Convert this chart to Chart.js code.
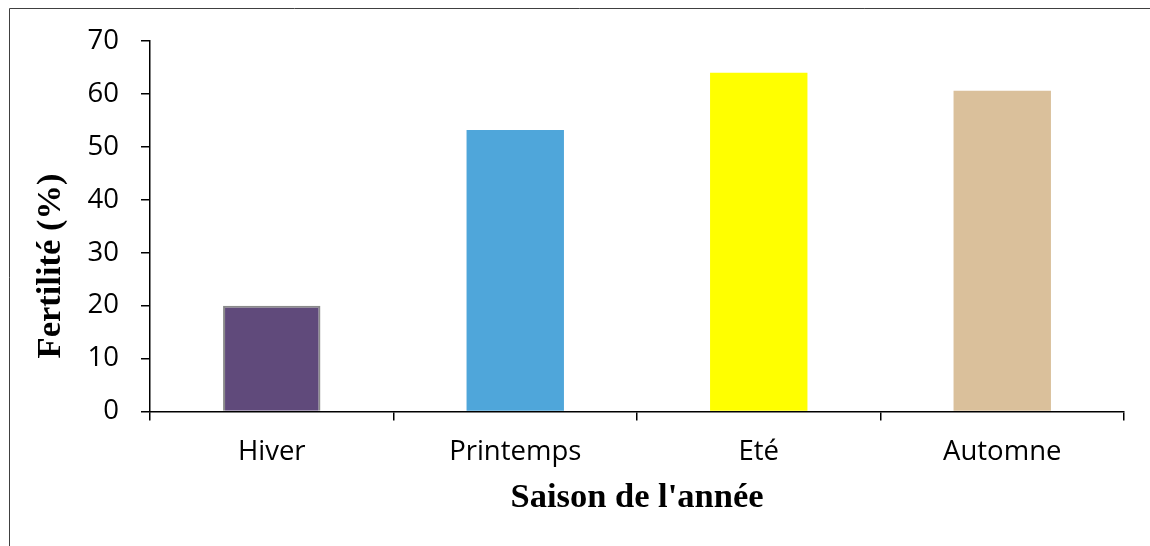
<!DOCTYPE html>
<html>
<head>
<meta charset="utf-8">
<script src="https://cdn.jsdelivr.net/npm/chart.js@4"></script>
<style>
  html, body { margin: 0; padding: 0; background: #fff; }
  #wrap { position: relative; width: 1150px; height: 546px; }
</style>
</head>
<body>
<div id="wrap"><canvas id="myChart" width="1150" height="546"></canvas></div>
<script>
// saisons et fertilité (%)
const saisons = ['Hiver', 'Printemps', 'Eté', 'Automne'];
const fertilite = [20, 53.2, 64, 60.6];
const couleurs = ['#604a7b', '#4fa6da', '#ffff00', '#dac09b'];
const bordures = ['#8a8a8a', '#4fa6da', '#ffff00', '#dac09b'];

const titreX = "Saison de l'année";
const titreY = 'Fertilité (%)';

// cadre gris + titres des axes
const decor = {
  id: 'decor',
  beforeDraw(chart) {
    const ctx = chart.ctx;
    ctx.save();
    ctx.strokeStyle = '#404040';
    ctx.lineWidth = 1;
    ctx.beginPath();
    ctx.moveTo(9.5, 546);
    ctx.lineTo(9.5, 8.5);
    ctx.lineTo(1150, 8.5);
    ctx.stroke();
    ctx.restore();
  },
  afterDraw(chart) {
    const ctx = chart.ctx;
    const area = chart.chartArea;
    ctx.save();
    ctx.fillStyle = '#000';
    ctx.font = 'bold 34.5px "Liberation Serif"';
    ctx.textAlign = 'center';
    ctx.textBaseline = 'middle';
    ctx.fillText(titreX, (area.left + area.right) / 2, 498);
    ctx.translate(51, 266);
    ctx.rotate(-Math.PI / 2);
    ctx.fillText(titreY, 0, 0);
    ctx.restore();
  }
};

const data = {
  labels: saisons,
  datasets: [
    {
      data: fertilite,
      backgroundColor: couleurs,
      borderColor: bordures,
      borderWidth: [2, 0, 0, 0],
      barPercentage: 1,
      categoryPercentage: 0.4,
    },
  ],
};

const config = {
  type: 'bar',
  data: data,
  options: {
    responsive: false,
    animation: false,
    layout: { padding: { top: 41, right: 26, left: 0, bottom: 0 } },
    plugins: {
      legend: { display: false },
      tooltip: { enabled: false },
    },
    scales: {
      x: {
        offset: true,
        grid: {
          offset: true,
          drawOnChartArea: false,
          color: '#000',
          lineWidth: 1.5,
          tickLength: 9,
        },
        border: { color: '#000', width: 1.5 },
        ticks: {
          color: '#000',
          padding: 15,
          font: { family: '"Open Sans"', size: 27.5 },
        },
        afterFit(scale) { scale.height = 134.5; },
      },
      y: {
        min: 0,
        max: 70,
        ticks: {
          stepSize: 10,
          color: '#000',
          padding: 22,
          font: { family: '"Open Sans"', size: 27.5 },
        },
        grid: {
          drawOnChartArea: false,
          color: '#000',
          lineWidth: 1.5,
          tickLength: 9,
        },
        border: { color: '#000', width: 1.5 },
        afterFit(scale) { scale.width = 150; },
      },
    },
  },
  plugins: [decor],
};

const myChart = new Chart(document.getElementById('myChart'), config);
</script>
</body>
</html>
